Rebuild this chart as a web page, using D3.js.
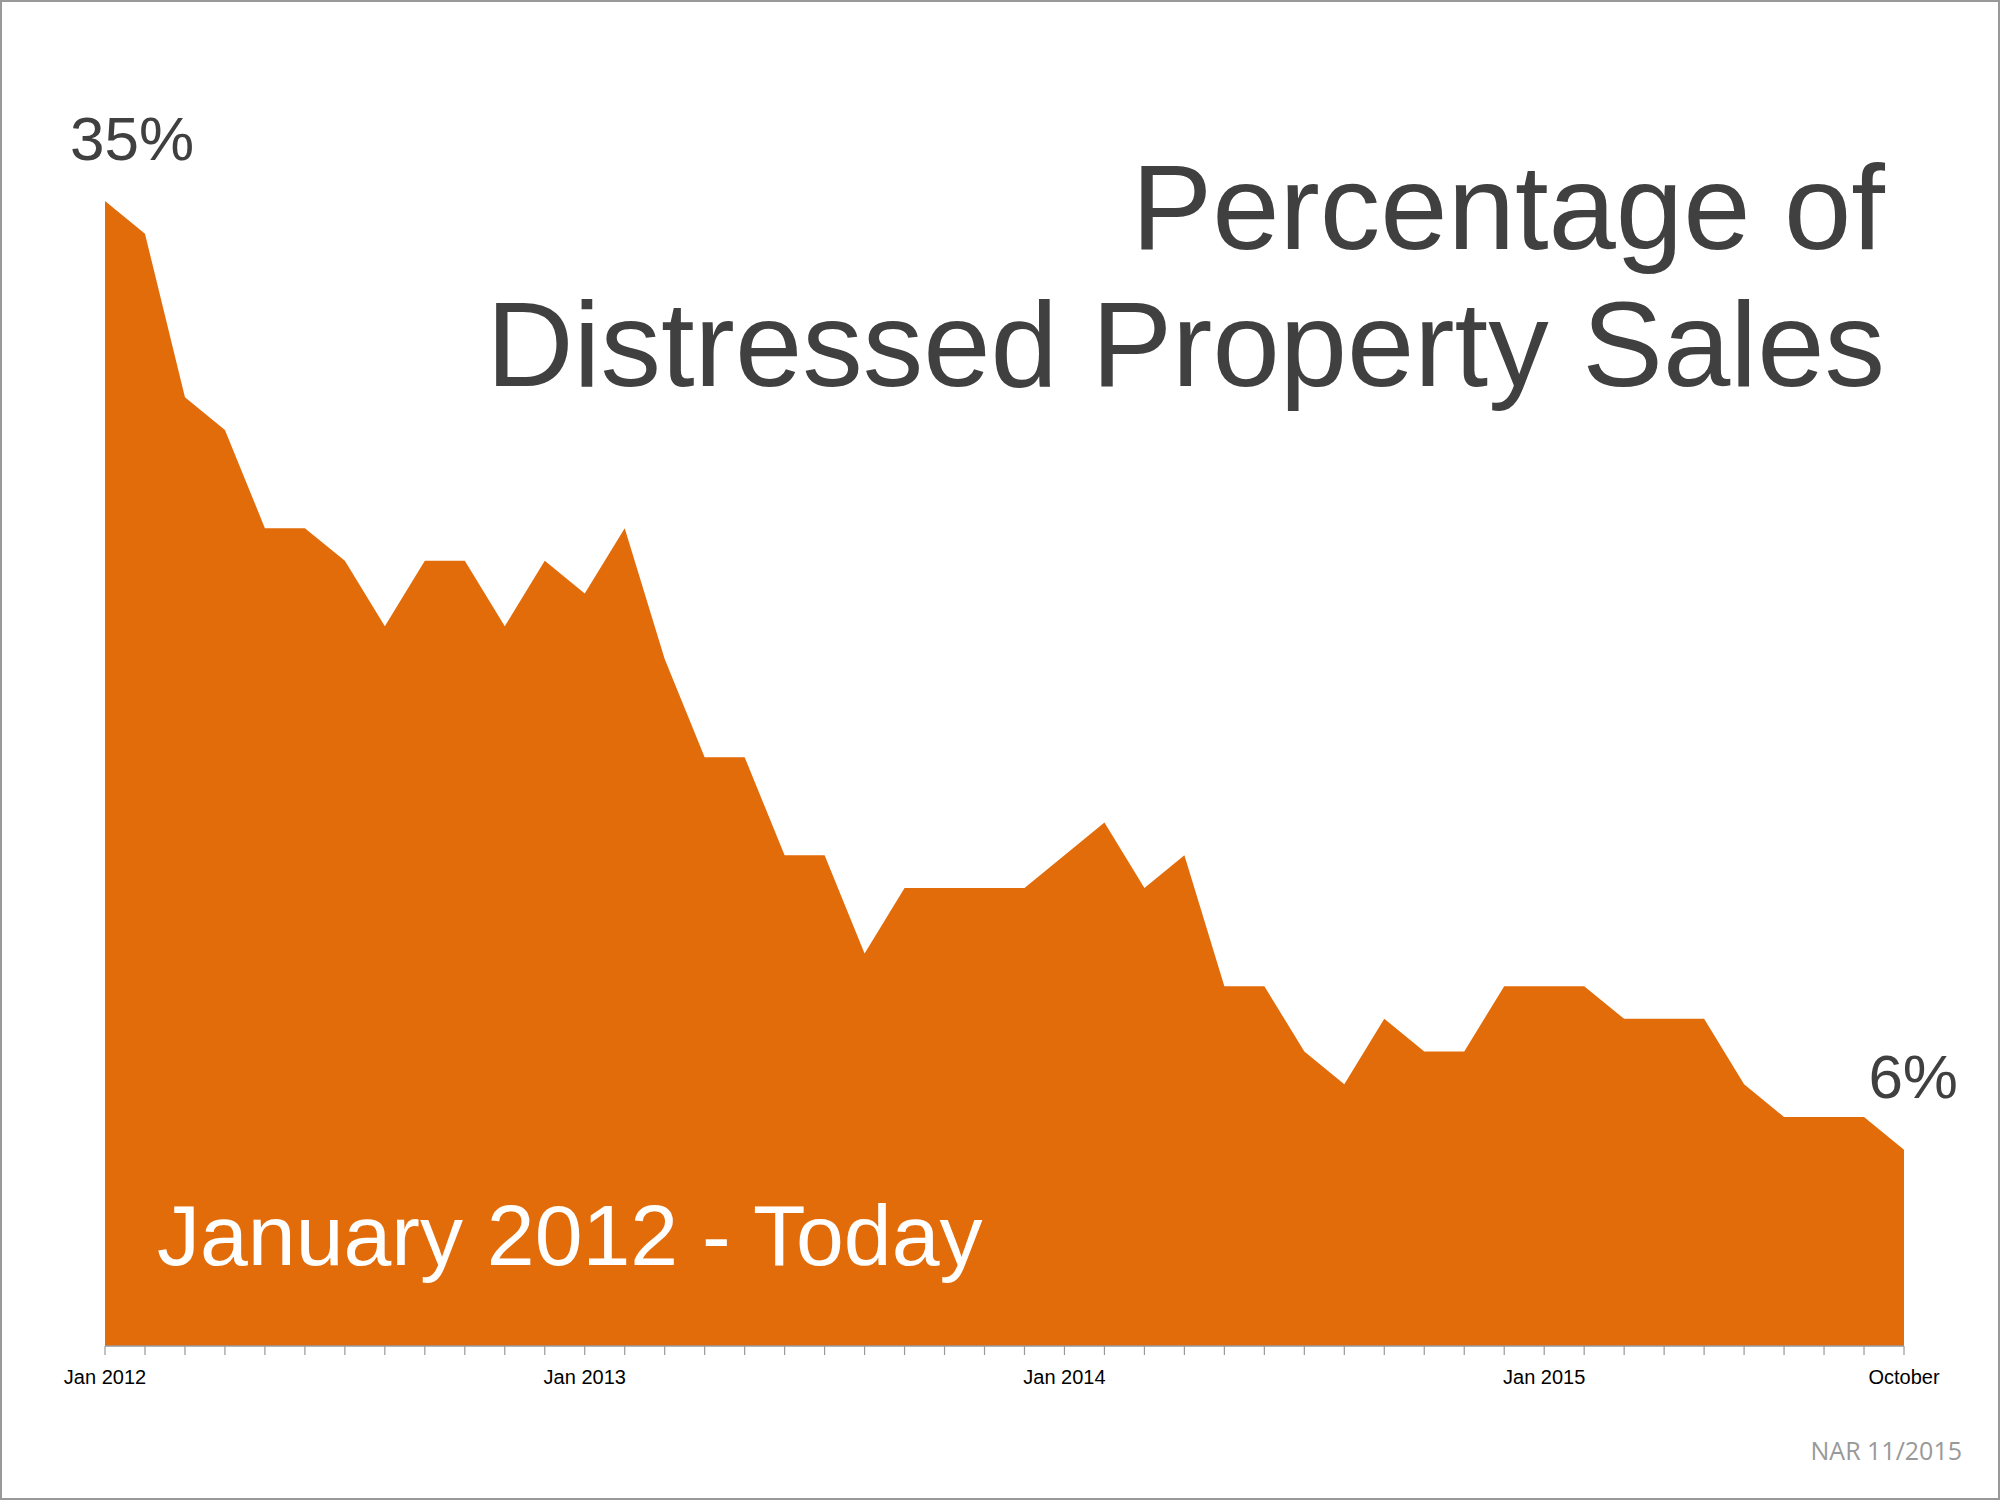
<!DOCTYPE html>
<html><head><meta charset="utf-8">
<script src="https://cdn.jsdelivr.net/npm/d3@7"></script>
<style>body{margin:0;background:#fff}</style>
</head><body>
<script>
const W = 2000, H = 1500
const values = [35,34,29,28,25,25,24,22,24,24,22,24,
  23,25,21,18,18,15,15,12,14,14,14,14,
  15,16,14,15,11,11,9,8,10,9,9,11,
  11,11,10,10,10,8,7,7,7,6]
const tickLabels = {0: 'Jan 2012', 12: 'Jan 2013', 24: 'Jan 2014', 36: 'Jan 2015', 45: 'October'}

const svg = d3.select('body').append('svg').attr('width', W).attr('height', H)
svg.append('rect').attr('x', 1).attr('y', 1).attr('width', W - 2).attr('height', H - 2)
  .attr('fill', '#fff').attr('stroke', '#999').attr('stroke-width', 2)

const x = d3.scaleLinear().domain([0, values.length - 1]).range([105, 1904])
const y = d3.scaleLinear().domain([0, 35]).range([1346, 201])

const area = d3.area().x((d, i) => x(i)).y0(y(0)).y1(d => y(d))
svg.append('path').datum(values).attr('d', area).attr('fill', '#E36C0A')

// axis
svg.append('line').attr('x1', x(0)).attr('x2', x(45)).attr('y1', y(0)).attr('y2', y(0))
  .attr('stroke', '#999').attr('stroke-width', 1.5)
svg.append('g').selectAll('line').data(d3.range(values.length)).enter().append('line')
  .attr('x1', i => x(i)).attr('x2', i => x(i)).attr('y1', y(0)).attr('y2', y(0) + 9)
  .attr('stroke', '#999').attr('stroke-width', 1.2)
svg.append('g').selectAll('text').data(Object.keys(tickLabels)).enter().append('text')
  .attr('x', i => x(+i)).attr('y', 1384).attr('text-anchor', 'middle')
  .attr('font-family', 'Liberation Sans, Arial').attr('font-size', 20).attr('fill', '#000')
  .text(i => tickLabels[i])

const font = 'Liberation Sans, Arial, sans-serif'
svg.append('text').attr('x', 1885).attr('y', 249).attr('text-anchor', 'end')
  .attr('font-family', font).attr('font-size', 121).attr('fill', '#404040').text('Percentage of')
svg.append('text').attr('x', 1885).attr('y', 386).attr('text-anchor', 'end')
  .attr('font-family', font).attr('font-size', 121).attr('fill', '#404040').text('Distressed Property Sales')
svg.append('text').attr('x', 70).attr('y', 160)
  .attr('font-family', font).attr('font-size', 62).attr('fill', '#404040').text(values[0] + '%')
svg.append('text').attr('x', 1958).attr('y', 1098).attr('text-anchor', 'end')
  .attr('font-family', font).attr('font-size', 62).attr('fill', '#404040').text(values[45] + '%')
svg.append('text').attr('x', 157).attr('y', 1265)
  .attr('font-family', font).attr('font-size', 86).attr('fill', '#fff').text('January 2012 - Today')
svg.append('text').attr('x', 1962).attr('y', 1460).attr('text-anchor', 'end')
  .attr('font-family', 'Open Sans, sans-serif').attr('font-size', 25).attr('fill', '#999').text('NAR 11/2015')
</script>
</body></html>
